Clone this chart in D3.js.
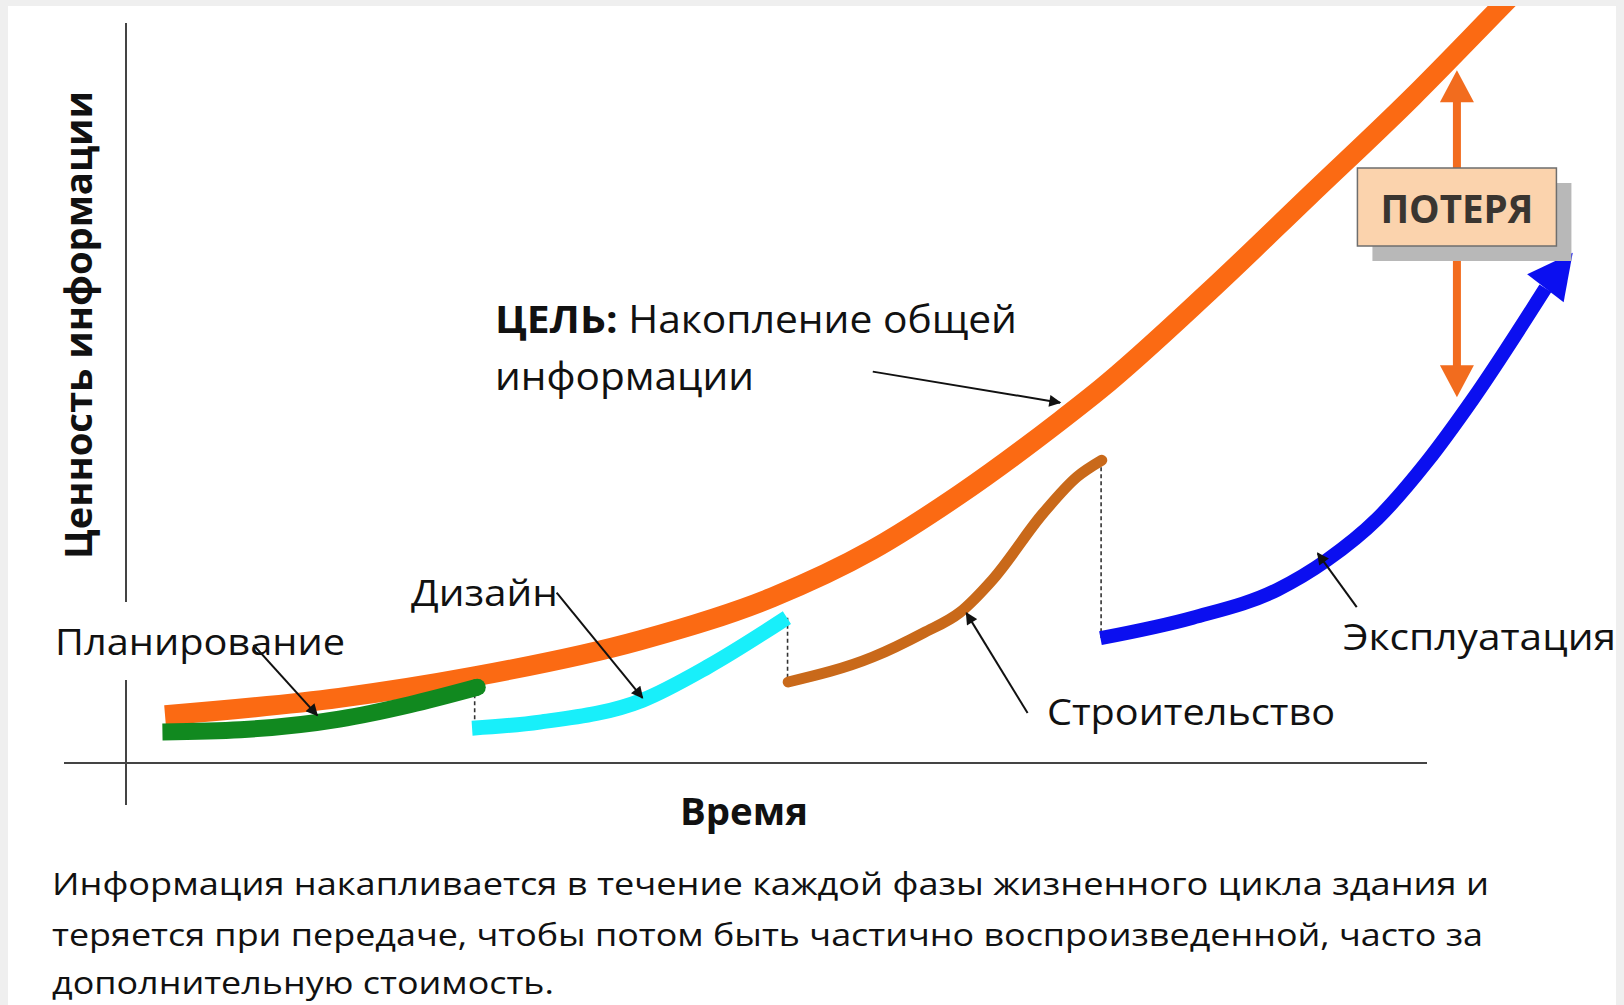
<!DOCTYPE html>
<html><head><meta charset="utf-8">
<script src="https://cdn.jsdelivr.net/npm/d3@7"></script>
<style>html,body{margin:0;padding:0;background:#efefef;} svg{display:block}</style>
</head><body>
<svg id="c" width="1624" height="1005"></svg>
<script>
// ---------------- data ----------------
const xAxisTitle = "Время";
const yAxisTitle = "Ценность информации";
const goalBold = "ЦЕЛЬ:";
const goalText = [" Накопление общей", "информации"];
const lossLabel = "ПОТЕРЯ";
const phaseNames = ["Планирование", "Дизайн", "Строительство", "Эксплуатация"];
const captionLines = [
  "Информация накапливается в течение каждой фазы жизненного цикла здания и",
  "теряется при передаче, чтобы потом быть частично воспроизведенной, часто за",
  "дополнительную стоимость."
];

// goal curve: accumulated common information (time, value)
const goalTime  = [3.0, 16.4, 26.7, 39.5, 49.7, 57.4, 64.1, 71.8, 74.9, 83.2, 91.0, 98.9, 105.4, 107.5];
const goalValue = [6.3, 8.6, 11.4, 16.2, 21.9, 28.2, 35.5, 45.2, 49.4, 62.2, 75.0, 88.0, 99.4, 103.1];

// phases
const planTime   = [2.8, 8.8, 16.4, 21.8, 27.0];
const planValue  = [4.1, 4.4, 5.8, 7.7, 10.0];
const designTime  = [26.6, 31.8, 39.7, 44.7, 50.8];
const designValue = [4.6, 5.4, 8.3, 12.7, 19.2];
const buildTime  = [50.9, 57.4, 61.3, 64.1, 66.6, 70.5, 73.1, 75.0];
const buildValue = [10.7, 14.0, 17.2, 19.9, 24.2, 33.0, 37.8, 40.0];
const operTime  = [74.9, 82.0, 88.5, 92.3, 96.2, 100.0, 103.5, 109.1, 111.2];
const operValue = [16.5, 19.2, 22.9, 26.8, 32.3, 39.8, 48.0, 62.7, 67.4];

// loss indicator (time, value range)
const lossTime = 102.3;
const lossRange = [48.3, 91.5];

// callout pointers: [fromTime, fromValue, toTime, toValue]
const goalPointer   = [57.4, 51.7, 71.8, 47.6];
const phasePointers = [
  [9.8, 15.6, 14.7, 6.3],
  [33.1, 22.5, 39.7, 8.6],
  [69.3, 6.6, 64.6, 19.8],
  [94.6, 20.6, 91.6, 27.7]
];

// ---------------- drawing ----------------
const W = 1624, H = 1005;
const svg = d3.select("#c");
const FONT = "'Open Sans', 'Noto Sans', sans-serif";

const x = d3.scaleLinear().domain([0, 100]).range([126, 1427]);
const y = d3.scaleLinear().domain([0, 100]).range([763, 6]);

const defs = svg.append("defs");
defs.append("clipPath").attr("id", "panel")
  .append("rect").attr("x", 8).attr("y", 6).attr("width", 1608).attr("height", H);
defs.append("marker").attr("id", "ah").attr("viewBox", "0 0 10 10")
  .attr("refX", 9).attr("refY", 5).attr("markerWidth", 7).attr("markerHeight", 6)
  .attr("markerUnits", "strokeWidth").attr("orient", "auto")
  .append("path").attr("d", "M0,0 L10,5 L0,10 Z").attr("fill", "#111");

// background panel
svg.append("rect").attr("width", W).attr("height", H).attr("fill", "#efefef");
svg.append("rect").attr("x", 8).attr("y", 6).attr("width", 1608).attr("height", H).attr("fill", "#ffffff");

function addText(g, px, py, str, size, weight, width, anchor) {
  const t = g.append("text").attr("x", px).attr("y", py)
    .attr("font-family", FONT).attr("font-size", size).attr("font-weight", weight)
    .attr("fill", "#111").attr("text-anchor", anchor || "start").text(str);
  if (width) t.attr("textLength", width).attr("lengthAdjust", "spacingAndGlyphs");
  return t;
}

// axes (cross-hair style)
const axes = svg.append("g").attr("stroke", "#444").attr("stroke-width", 2);
axes.append("line").attr("x1", x(0)).attr("x2", x(0)).attr("y1", 23).attr("y2", 805);
axes.append("line").attr("x1", 64).attr("x2", x(100)).attr("y1", y(0)).attr("y2", y(0));

// white box behind "Планирование" (breaks the y axis)
svg.append("rect").attr("x", 44).attr("y", 602).attr("width", 310).attr("height", 78).attr("fill", "#fff");

const line = d3.line().x(d => x(d[0])).y(d => y(d[1])).curve(d3.curveMonotoneX);
const zip = (a, b) => a.map((v, i) => [v, b[i]]);

const plan = zip(planTime, planValue);
const design = zip(designTime, designValue);
const build = zip(buildTime, buildValue);
const oper = zip(operTime, operValue);
const goal = zip(goalTime, goalValue);

// dotted transitions between phases
const phasesData = [plan, design, build, oper];
const dots = svg.append("g").attr("stroke", "#333").attr("stroke-width", 1.6).attr("stroke-dasharray", "4,3");
for (let i = 1; i < phasesData.length; i++) {
  const prev = phasesData[i - 1], next = phasesData[i];
  const tx = (prev[prev.length - 1][0] + next[0][0]) / 2;
  dots.append("line").attr("x1", x(tx)).attr("x2", x(tx))
    .attr("y1", y(prev[prev.length - 1][1])).attr("y2", y(next[0][1]));
}

// goal curve
svg.append("path").attr("clip-path", "url(#panel)").attr("d", line(goal))
  .attr("fill", "none").attr("stroke", "#fb6a13").attr("stroke-width", 20);

// phase curves
svg.append("path").attr("d", line(plan)).attr("fill", "none").attr("stroke", "#11891f")
  .attr("stroke-width", 17).attr("stroke-linecap", "butt");
svg.append("circle").attr("cx", x(plan[plan.length-1][0])).attr("cy", y(plan[plan.length-1][1])).attr("r", 8.5).attr("fill", "#11891f");
svg.append("path").attr("d", line(design)).attr("fill", "none").attr("stroke", "#18effa")
  .attr("stroke-width", 15).attr("stroke-linecap", "butt");
svg.append("path").attr("d", line(build)).attr("fill", "none").attr("stroke", "#c9691a")
  .attr("stroke-width", 11).attr("stroke-linecap", "round");

// operation curve with arrowhead
const operBody = oper.slice(0, oper.length - 1);
svg.append("path").attr("d", line(operBody)).attr("fill", "none").attr("stroke", "#0b0ff0")
  .attr("stroke-width", 14).attr("stroke-linecap", "butt");
{
  const tip = oper[oper.length - 1], base = oper[oper.length - 2];
  const tx = x(tip[0]), ty = y(tip[1]), bx = x(base[0]), by = y(base[1]);
  const dx = tx - bx, dy = ty - by, L = Math.hypot(dx, dy);
  const nx = -dy / L, ny = dx / L, hw = 23;
  svg.append("path").attr("d", `M${tx},${ty} L${bx + nx * hw},${by + ny * hw} L${bx - nx * hw},${by - ny * hw} Z`)
    .attr("fill", "#0b0ff0");
}

// loss double arrow
{
  const lx = x(lossTime), yTop = y(lossRange[1]), yBot = y(lossRange[0]);
  const col = "#f26c1e", ah = 32, aw = 17;
  svg.append("line").attr("x1", lx).attr("x2", lx).attr("y1", yTop + ah - 2).attr("y2", yBot - ah + 2)
    .attr("stroke", col).attr("stroke-width", 8);
  svg.append("path").attr("d", `M${lx},${yTop} L${lx + aw},${yTop + ah} L${lx - aw},${yTop + ah} Z`).attr("fill", col);
  svg.append("path").attr("d", `M${lx},${yBot} L${lx + aw},${yBot - ah} L${lx - aw},${yBot - ah} Z`).attr("fill", col);
  // box with shadow
  const bw = 199, bh = 78, bxl = lx - bw / 2, byt = 168;
  svg.append("rect").attr("x", bxl + 15).attr("y", byt + 15).attr("width", bw).attr("height", bh).attr("fill", "#b8b8b8");
  svg.append("rect").attr("x", bxl).attr("y", byt).attr("width", bw).attr("height", bh)
    .attr("fill", "#fbd3ad").attr("stroke", "#6e6e6e").attr("stroke-width", 1.5);
  addText(svg, lx, byt + 55, lossLabel, 40, 700, 153, "middle").attr("fill", "#3a3530");
}

// callout pointers
const ptr = svg.append("g").attr("stroke", "#111").attr("stroke-width", 2).attr("fill", "none");
[goalPointer, ...phasePointers].forEach(p => {
  ptr.append("line").attr("x1", x(p[0])).attr("y1", y(p[1])).attr("x2", x(p[2])).attr("y2", y(p[3]))
    .attr("marker-end", "url(#ah)");
});

// labels
const labels = svg.append("g");
addText(labels, 55, 655, phaseNames[0], 36, 400, 290);
addText(labels, 411, 606, phaseNames[1], 36, 400, 147);
addText(labels, 1047, 725, phaseNames[2], 36, 400, 288);
addText(labels, 1343, 650, phaseNames[3], 36, 400, 273);

const g1 = labels.append("text").attr("x", 495).attr("y", 333)
  .attr("font-family", FONT).attr("font-size", 38).attr("fill", "#111")
  .attr("textLength", 522).attr("lengthAdjust", "spacingAndGlyphs");
g1.append("tspan").attr("font-weight", 700).text(goalBold);
g1.append("tspan").attr("font-weight", 400).text(goalText[0]);
addText(labels, 495, 390, goalText[1], 38, 400, 259);

// axis titles
addText(labels, 744, 825, xAxisTitle, 38, 700, 128, "middle");
addText(labels, 0, 0, yAxisTitle, 38, 700, 468, "middle")
  .attr("transform", "translate(92,325) rotate(-90)");

// caption
const capBase = [895, 946, 994], capW = [1437, 1431, 502];
captionLines.forEach((s, i) => addText(labels, 52, capBase[i], s, 31, 400, capW[i]));
</script>
</body></html>
